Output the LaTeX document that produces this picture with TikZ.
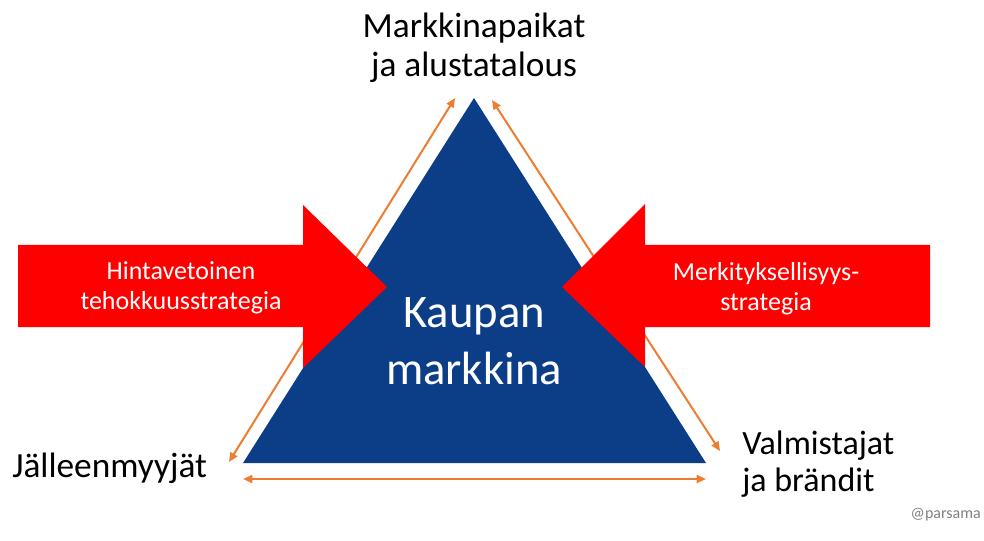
\documentclass[tikz,border=0pt]{standalone}
\usepackage{fontspec}
\setmainfont{Carlito}
\usetikzlibrary{arrows.meta}
\definecolor{kblue}{RGB}{12,61,135}
\definecolor{korange}{RGB}{237,125,49}
\definecolor{kred}{RGB}{255,0,0}
\definecolor{kgray}{RGB}{128,128,128}
\begin{document}
\begin{tikzpicture}[x=0.75pt,y=-0.75pt,
  lbl/.style={font=\fontsize{26.5}{29}\selectfont, inner sep=0pt},
  redtxt/.style={text=white, align=center, inner sep=0pt, font=\fontsize{19.5}{22.5}\selectfont},
  twoway/.style={korange, line width=1.5pt, {Triangle[length=7pt,width=6pt]}-{Triangle[length=7pt,width=6pt]}}]
\useasboundingbox (0,0) rectangle (984,541);
% triangle
\fill[kblue] (474,98) -- (706,463) -- (243,463) -- cycle;
% orange arrows
\coordinate (l1) at (229,462);
\coordinate (l2) at (455,98);
\coordinate (r1) at (492,100);
\coordinate (r2) at (720,451);
\coordinate (b1) at (243,479);
\coordinate (b2) at (706,479);
\draw[twoway] (l1) -- (l2);
\draw[twoway] (r1) -- (r2);
\draw[twoway] (b1) -- (b2);
% red arrows
\fill[kred] (18,245) -- (303,245) -- (303,205) -- (387,287) -- (303,368) -- (303,327) -- (18,327) -- cycle;
\fill[kred] (930,245) -- (645,245) -- (645,204) -- (562,287) -- (645,367) -- (645,327) -- (930,327) -- cycle;
\node[redtxt] (hinta) at (181,288) {Hintavetoinen\\tehokkuusstrategia};
\node[redtxt] (merkitys) at (766,289) {Merkityksellisyys-\\strategia};
% labels
\node[lbl, align=center] (markkinat) at (474,48) {Markkinapaikat\\ja alustatalous};
\node[text=white, inner sep=0pt, align=center, font=\fontsize{35}{42.75}\selectfont] (kauppa) at (474,341) {Kaupan\\markkina};
\node[lbl, anchor=base west] (jalleen) at (12,477) {Jälleenmyyjät};
\node[lbl, font=\fontsize{25.5}{28}\selectfont, align=left, anchor=west] (valmistajat) at (742,464) {Valmistajat\\ja brändit};
\node[text=kgray, inner sep=0pt, anchor=base east, font=\fontsize{12}{14}\selectfont] (parsama) at (981,518) {@parsama};
\end{tikzpicture}
\end{document}
